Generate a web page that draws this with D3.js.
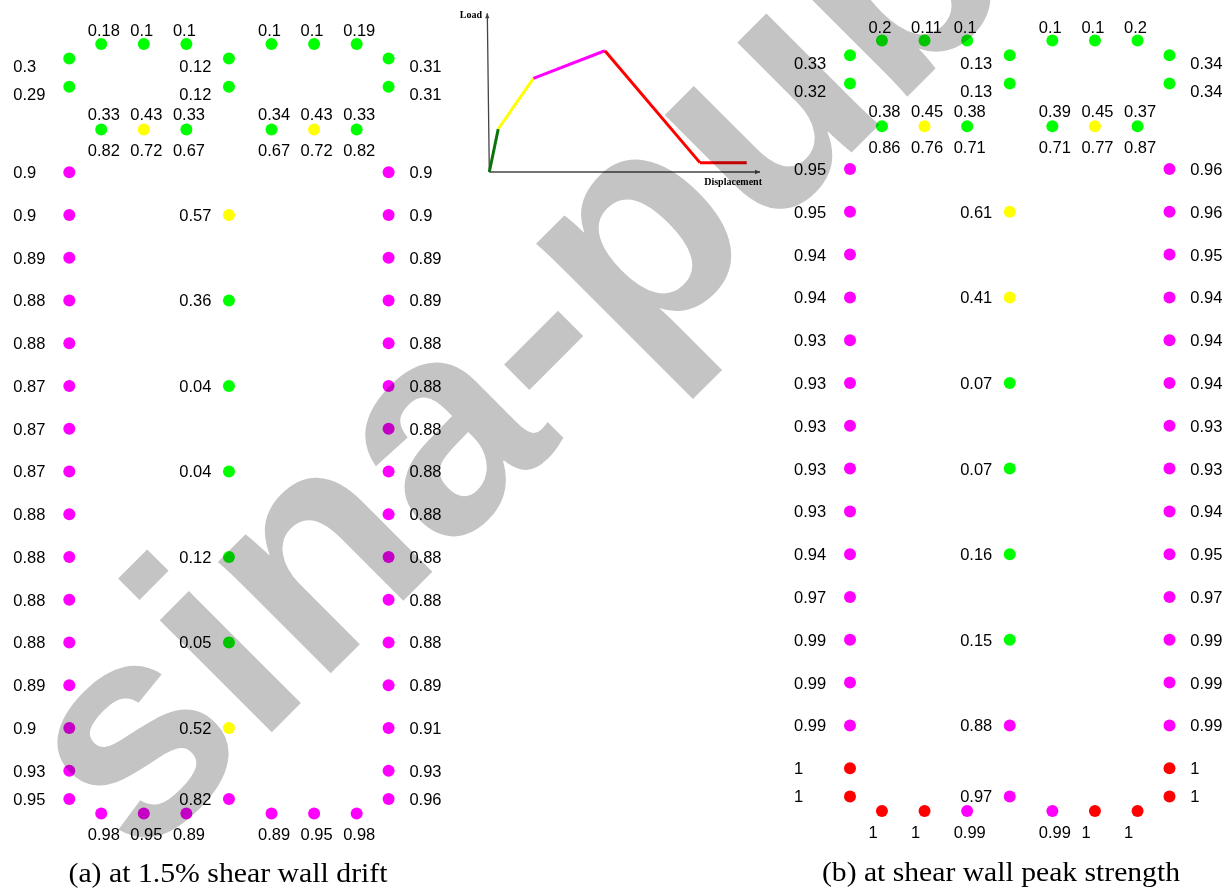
<!DOCTYPE html>
<html><head><meta charset="utf-8">
<script src="https://cdn.jsdelivr.net/npm/d3@7"></script>
<style>
html,body{margin:0;padding:0;background:#fff;}
svg{display:block;}
</style></head>
<body><svg id="chart" width="1231" height="888"></svg>
<script>
// ---------------- data ----------------
// wall node layout (wall units)
const flangeX = [0.75, 1.75, 2.75, 4.75, 5.75, 6.75];
const colX = { left: 0, mid: 3.75, right: 7.5 };
const colTopLevels = [-2.66, -2];
const webLevels = [0, 1, 2, 3, 4, 5, 6, 7, 8, 9, 10, 11, 12, 13, 14, 14.66];
const midLevels = [1, 3, 5, 7, 9, 11, 13, 14.66];
const topRowLevel = -3, innerRowLevel = -1, bottomRowLevel = 15;

// states: E elastic, Y yielding, H hardening, S softening
const stateColor = { E: "#00ff00", Y: "#ffff00", H: "#ff00ff", S: "#ff0000" };

// panel (a) at 1.5% shear wall drift
const aTopRow = [0.18, 0.1, 0.1, 0.1, 0.1, 0.19];
const aTopRowState = ["E", "E", "E", "E", "E", "E"];
const aColTopLeft = [0.3, 0.29];
const aColTopMid = [0.12, 0.12];
const aColTopRight = [0.31, 0.31];
const aInnerUpper = [0.33, 0.43, 0.33, 0.34, 0.43, 0.33];
const aInnerLower = [0.82, 0.72, 0.67, 0.67, 0.72, 0.82];
const aInnerState = ["E", "Y", "E", "E", "Y", "E"];
const aWebLeft = [0.9, 0.9, 0.89, 0.88, 0.88, 0.87, 0.87, 0.87, 0.88, 0.88, 0.88, 0.88, 0.89, 0.9, 0.93, 0.95];
const aWebLeftState = ["H","H","H","H","H","H","H","H","H","H","H","H","H","H","H","H"];
const aWebRight = [0.9, 0.9, 0.89, 0.89, 0.88, 0.88, 0.88, 0.88, 0.88, 0.88, 0.88, 0.88, 0.89, 0.91, 0.93, 0.96];
const aWebRightState = ["H","H","H","H","H","H","H","H","H","H","H","H","H","H","H","H"];
const aWebMid = [0.57, 0.36, 0.04, 0.04, 0.12, 0.05, 0.52, 0.82];
const aWebMidState = ["Y", "E", "E", "E", "E", "E", "Y", "H"];
const aBottomRow = [0.98, 0.95, 0.89, 0.89, 0.95, 0.98];
const aBottomRowState = ["H", "H", "H", "H", "H", "H"];

// panel (b) at shear wall peak strength
const bTopRow = [0.2, 0.11, 0.1, 0.1, 0.1, 0.2];
const bTopRowState = ["E", "E", "E", "E", "E", "E"];
const bColTopLeft = [0.33, 0.32];
const bColTopMid = [0.13, 0.13];
const bColTopRight = [0.34, 0.34];
const bInnerUpper = [0.38, 0.45, 0.38, 0.39, 0.45, 0.37];
const bInnerLower = [0.86, 0.76, 0.71, 0.71, 0.77, 0.87];
const bInnerState = ["E", "Y", "E", "E", "Y", "E"];
const bWebLeft = [0.95, 0.95, 0.94, 0.94, 0.93, 0.93, 0.93, 0.93, 0.93, 0.94, 0.97, 0.99, 0.99, 0.99, 1, 1];
const bWebLeftState = ["H","H","H","H","H","H","H","H","H","H","H","H","H","H","S","S"];
const bWebRight = [0.96, 0.96, 0.95, 0.94, 0.94, 0.94, 0.93, 0.93, 0.94, 0.95, 0.97, 0.99, 0.99, 0.99, 1, 1];
const bWebRightState = ["H","H","H","H","H","H","H","H","H","H","H","H","H","H","S","S"];
const bWebMid = [0.61, 0.41, 0.07, 0.07, 0.16, 0.15, 0.88, 0.97];
const bWebMidState = ["Y", "Y", "E", "E", "E", "E", "H", "H"];
const bBottomRow = [1, 1, 0.99, 0.99, 1, 1];
const bBottomRowState = ["S", "S", "H", "H", "S", "S"];

const titles = ["(a) at 1.5% shear wall drift", "(b) at shear wall peak strength"];

// inset backbone curve (normalised)
const curveDisp = [0, 0.033, 0.163, 0.427, 0.778, 0.951];
const curveLoad = [0, 0.271, 0.59, 0.764, 0.059, 0.059];
const curveSegState = ["Eg", "Y", "H", "S", "S"];
const insetColor = { Eg: "#0a730a", Y: "#ffff00", H: "#ff00ff", S: "#ff0000" };

const watermarkText = "sina-pub";

// ---------------- drawing ----------------
const svg = d3.select("#chart");
const labelFont = "'Liberation Sans', Arial, Helvetica, sans-serif";
const LFS = 16.5;

function buildNodes(p) {
  const nodes = [];
  flangeX.forEach((x, i) => nodes.push({ x, y: topRowLevel, v: p.topRow[i], s: p.topRowState[i], kind: "above" }));
  [["left", p.colTopLeft], ["mid", p.colTopMid], ["right", p.colTopRight]].forEach(([c, arr]) =>
    colTopLevels.forEach((y, i) => nodes.push({ x: colX[c], y, v: arr[i], s: "E", kind: "side", side: c, dy: 7.6 })));
  flangeX.forEach((x, i) => nodes.push({ x, y: innerRowLevel, v: p.innerUpper[i], v2: p.innerLower[i], s: p.innerState[i], kind: "both" }));
  webLevels.forEach((y, i) => nodes.push({ x: colX.left, y, v: p.webLeft[i], s: p.webLeftState[i], kind: "side", side: "left", dy: 0 }));
  webLevels.forEach((y, i) => nodes.push({ x: colX.right, y, v: p.webRight[i], s: p.webRightState[i], kind: "side", side: "right", dy: 0 }));
  midLevels.forEach((y, i) => nodes.push({ x: colX.mid, y, v: p.webMid[i], s: p.webMidState[i], kind: "side", side: "mid", dy: 0 }));
  flangeX.forEach((x, i) => nodes.push({ x, y: bottomRowLevel, v: p.bottomRow[i], s: p.bottomRowState[i], kind: "below" }));
  return nodes;
}

const panels = [
  { topRow: aTopRow, topRowState: aTopRowState, colTopLeft: aColTopLeft, colTopMid: aColTopMid, colTopRight: aColTopRight,
    innerUpper: aInnerUpper, innerLower: aInnerLower, innerState: aInnerState, webLeft: aWebLeft, webLeftState: aWebLeftState,
    webRight: aWebRight, webRightState: aWebRightState, webMid: aWebMid, webMidState: aWebMidState,
    bottomRow: aBottomRow, bottomRowState: aBottomRowState,
    xr: [69.3, 388.6], yr: [172.3, 770.7], title: titles[0], tx: 228, ty: 882, tw: 319 },
  { topRow: bTopRow, topRowState: bTopRowState, colTopLeft: bColTopLeft, colTopMid: bColTopMid, colTopRight: bColTopRight,
    innerUpper: bInnerUpper, innerLower: bInnerLower, innerState: bInnerState, webLeft: bWebLeft, webLeftState: bWebLeftState,
    webRight: bWebRight, webRightState: bWebRightState, webMid: bWebMid, webMidState: bWebMidState,
    bottomRow: bBottomRow, bottomRowState: bBottomRowState,
    xr: [850.0, 1169.5], yr: [169.0, 768.2], title: titles[1], tx: 1001, ty: 881, tw: 358 }
];

const fmt = v => String(v);

panels.forEach(p => {
  const xs = d3.scaleLinear().domain([0, 7.5]).range(p.xr);
  const ys = d3.scaleLinear().domain([0, 14]).range(p.yr);
  const g = svg.append("g");
  const nodes = buildNodes(p);

  g.selectAll("circle").data(nodes).join("circle")
    .attr("cx", d => xs(d.x)).attr("cy", d => ys(d.y)).attr("r", 6)
    .attr("fill", d => stateColor[d.s]);

  const labels = [];
  nodes.forEach(d => {
    const cx = xs(d.x), cy = ys(d.y);
    if (d.kind === "above") labels.push({ t: fmt(d.v), x: cx - 13.5, y: cy - 14, a: "start" });
    else if (d.kind === "below") labels.push({ t: fmt(d.v), x: cx - 13.5, y: cy + 21, a: "start" });
    else if (d.kind === "both") {
      labels.push({ t: fmt(d.v), x: cx - 13.5, y: cy - 15, a: "start" });
      labels.push({ t: fmt(d.v2), x: cx - 13.5, y: cy + 21, a: "start" });
    } else {
      if (d.side === "left") labels.push({ t: fmt(d.v), x: cx - 56, y: cy + d.dy, a: "start" });
      else if (d.side === "mid") labels.push({ t: fmt(d.v), x: cx - 17.5, y: cy + d.dy, a: "end" });
      else labels.push({ t: fmt(d.v), x: cx + 20.8, y: cy + d.dy, a: "start" });
    }
  });
  g.selectAll("text.val").data(labels).join("text").attr("class", "val")
    .attr("x", d => d.x).attr("y", d => d.y + 0.358 * LFS)
    .attr("text-anchor", d => d.a)
    .style("font-family", labelFont).style("font-size", LFS + "px").attr("fill", "#000")
    .text(d => d.t);

  g.append("text").attr("x", p.tx).attr("y", p.ty).attr("text-anchor", "middle")
    .attr("textLength", p.tw).attr("lengthAdjust", "spacingAndGlyphs")
    .style("font-family", "'Liberation Serif', 'Times New Roman', serif").style("font-size", "27px")
    .attr("fill", "#000").text(p.title);
});

// ---------------- inset ----------------
const ix = d3.scaleLinear().domain([0, 1]).range([489.3, 760]);
const iy = d3.scaleLinear().domain([0, 1]).range([172, 13.3]);
const ins = svg.append("g");
ins.append("line").attr("x1", ix(0)).attr("y1", iy(0)).attr("x2", ix(1)).attr("y2", iy(0))
  .attr("stroke", "#444").attr("stroke-width", 1.3);
ins.append("line").attr("x1", ix(0)).attr("y1", iy(0)).attr("x2", ix(0) - 2).attr("y2", iy(1))
  .attr("stroke", "#444").attr("stroke-width", 1.3);
ins.append("path").attr("d", `M${ix(1)},${iy(0)} l-5,-2.2 l0,4.4 z`).attr("fill", "#444");
ins.append("path").attr("d", `M${ix(0) - 2},${iy(1)} l-2.2,5 l4.4,0 z`).attr("fill", "#444");
const segs = curveSegState.map((s, i) => ({ s, x1: curveDisp[i], y1: curveLoad[i], x2: curveDisp[i + 1], y2: curveLoad[i + 1] }));
ins.selectAll("line.seg").data(segs).join("line").attr("class", "seg")
  .attr("x1", d => ix(d.x1)).attr("y1", d => iy(d.y1)).attr("x2", d => ix(d.x2)).attr("y2", d => iy(d.y2))
  .attr("stroke", d => insetColor[d.s]).attr("stroke-width", 3).attr("stroke-linecap", "butt");
ins.append("text").attr("x", 482).attr("y", 17.5).attr("text-anchor", "end")
  .style("font-family", "'Liberation Serif', 'Times New Roman', serif").style("font-weight", "bold").style("font-size", "10px")
  .text("Load");
ins.append("text").attr("x", 762).attr("y", 185).attr("text-anchor", "end")
  .style("font-family", "'Liberation Serif', 'Times New Roman', serif").style("font-weight", "bold").style("font-size", "10px")
  .text("Displacement");

// ---------------- watermark ----------------
svg.append("text").attr("transform", "translate(139,865) rotate(-45)")
  .style("font-family", "'Liberation Sans', Arial, sans-serif").style("font-weight", "bold").style("font-size", "300px")
  .style("mix-blend-mode", "multiply").attr("fill", "#c4c4c4")
  .text(watermarkText);
</script>
</body></html>
